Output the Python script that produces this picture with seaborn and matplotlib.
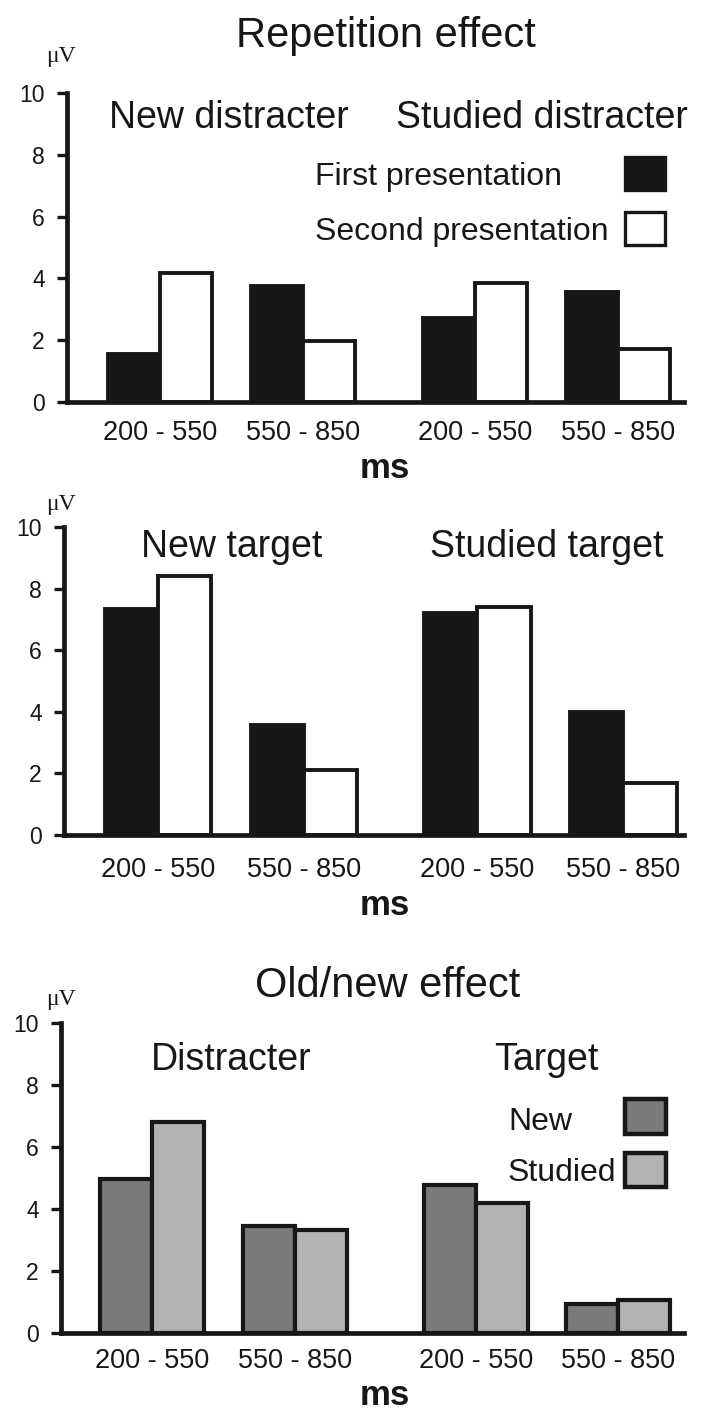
import numpy as np
import pandas as pd
import matplotlib
matplotlib.use("Agg")
import matplotlib.pyplot as plt
import seaborn as sns
from matplotlib.patches import Rectangle

# ---------------- data ----------------
windows = ["200 - 550", "550 - 850"]

rep_distr_conditions = ["New distracter", "Studied distracter"]
rep_distr_first = [1.56, 3.75, 2.73, 3.57]
rep_distr_second = [4.18, 1.96, 3.85, 1.73]

rep_targ_conditions = ["New target", "Studied target"]
rep_targ_first = [7.35, 3.57, 7.20, 4.00]
rep_targ_second = [8.41, 2.11, 7.40, 1.69]

on_conditions = ["Distracter", "Target"]
on_new = [4.97, 3.45, 4.77, 0.94]
on_studied = [6.80, 3.32, 4.19, 1.06]

rep_series = ["First presentation", "Second presentation"]
on_series = ["New", "Studied"]
yticks = [0, 2, 4, 6, 8, 10]

title_rep = "Repetition effect"
title_on = "Old/new effect"
unit_label = "\u03bcV"
x_label = "ms"

# ---------------- style ----------------
sns.set_style("ticks")
plt.rcParams["font.family"] = ["Liberation Sans", "DejaVu Sans"]

W, H = 702, 1420
fig = plt.figure(figsize=(W / 100, H / 100), dpi=100)


def fx(x):
    return x / W


def fy(y):
    return 1 - y / H


BLACK = "#171717"


def make_df(conds, series, vals_a, vals_b, gap):
    rows = []
    for i, c in enumerate(conds):
        for j, w in enumerate(windows):
            k = i * 2 + j
            pos = j + i * (1 + gap)
            rows.append(dict(condition=c, window=w, pos=pos, series=series[0], value=vals_a[k]))
            rows.append(dict(condition=c, window=w, pos=pos, series=series[1], value=vals_b[k]))
    return pd.DataFrame(rows)


def panel(rect_px, conds, series, va, vb, gap, colors, lw, xlim, tick_pad):
    left, right, top, bottom = rect_px
    ax = fig.add_axes([fx(left), fy(bottom), (right - left) / W, (bottom - top) / H])
    df = make_df(conds, series, va, vb, gap)
    sns.barplot(data=df, x="pos", y="value", hue="series", hue_order=series,
                native_scale=True, palette=dict(zip(series, colors)),
                edgecolor=BLACK, linewidth=lw, width=0.73, errorbar=None,
                legend=False, saturation=1, ax=ax)
    pos = sorted(df["pos"].unique())
    ax.set_xticks(pos, [windows[i % 2] for i in range(len(pos))])
    ax.set_xlim(*xlim)
    ax.set_ylim(0, 10)
    ax.set_yticks(yticks, [str(t) for t in yticks])
    ax.set_xlabel("")
    ax.set_ylabel("")
    for s in ["top", "right"]:
        ax.spines[s].set_visible(False)
    for s in ["left", "bottom"]:
        ax.spines[s].set_linewidth(3.4)
        ax.spines[s].set_color(BLACK)
    ax.tick_params(axis="y", length=7, width=2.4, color=BLACK, pad=9,
                   labelsize=16.5, labelcolor=BLACK)
    ax.tick_params(axis="x", length=0, pad=tick_pad, labelsize=19.5, labelcolor=BLACK)
    ax.set_facecolor("white")
    return ax


# Panel 1: repetition effect, distracters
panel((67, 684, 93, 402), rep_distr_conditions, rep_series, rep_distr_first,
      rep_distr_second, 1.2, [BLACK, "white"], 2.8, (-0.65, 3.66), 13)
# Panel 2: repetition effect, targets
panel((64, 684, 527, 835), rep_targ_conditions, rep_series, rep_targ_first,
      rep_targ_second, 1.185, [BLACK, "white"], 2.8, (-0.644, 3.60), 16)
# Panel 3: old/new effect
panel((61, 684, 1023, 1333), on_conditions, on_series, on_new,
      on_studied, 1.27, ["#7a7a7a", "#b3b3b3"], 3.0, (-0.64, 3.73), 11)

# ---------------- texts ----------------
def t(x, y, s, size, ha="center", weight="normal", family=None):
    kw = {}
    if family is not None:
        kw["family"] = family
    fig.text(fx(x), fy(y), s, ha=ha, va="baseline", fontsize=size,
             fontweight=weight, color=BLACK, **kw)


t(386, 47, title_rep, 30)
t(388, 997, title_on, 30)

t(229, 128, rep_distr_conditions[0], 27)
t(542, 128, rep_distr_conditions[1], 27)
t(232, 557, rep_targ_conditions[0], 27)
t(547, 557, rep_targ_conditions[1], 27)
t(231, 1070, on_conditions[0], 27)
t(546, 1070, on_conditions[1], 27)

for yb in (62, 510, 1005):
    t(46, yb, unit_label, 17, ha="left", family=["Liberation Serif", "DejaVu Serif"])

for yb in (478, 915, 1405):
    t(385, yb, x_label, 25, weight="bold")

# legend, panel 1
t(315, 185, rep_series[0], 23, ha="left")
t(315, 240, rep_series[1], 23, ha="left")
for (y0, y1), col in zip([(157, 190), (212, 245)], [BLACK, "white"]):
    fig.add_artist(Rectangle((fx(625), fy(y1)), 40 / W, (y1 - y0) / H,
                             transform=fig.transFigure, facecolor=col,
                             edgecolor=BLACK, linewidth=2.4))
# legend, panel 3
t(508, 1130, on_series[0], 23, ha="left")
t(508, 1181, on_series[1], 23, ha="left")
for (y0, y1), col in zip([(1099, 1134), (1153, 1187)], ["#7a7a7a", "#b3b3b3"]):
    fig.add_artist(Rectangle((fx(625), fy(y1)), 41 / W, (y1 - y0) / H,
                             transform=fig.transFigure, facecolor=col,
                             edgecolor=BLACK, linewidth=3.2))

fig.savefig("out.png", dpi=100, facecolor="white")
